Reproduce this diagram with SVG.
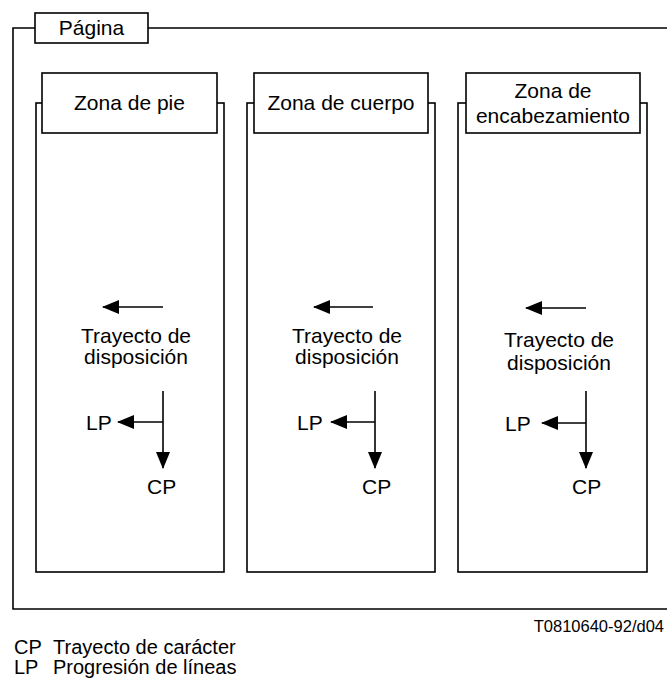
<svg xmlns="http://www.w3.org/2000/svg" width="667" height="680" viewBox="0 0 667 680">
<defs>
<style>
.ln{fill:none;stroke:#000;stroke-width:1.6}
.bx{fill:#fff;stroke:#000;stroke-width:1.6}
.t{font-family:"Liberation Sans",Arial,sans-serif;font-size:21px;fill:#000}
.c{text-anchor:middle}
.lg{font-family:"Liberation Sans",Arial,sans-serif;font-size:20px;fill:#000}
.ref{font-family:"Liberation Sans",Arial,sans-serif;font-size:16.5px;fill:#000;text-anchor:end}
</style>
<marker id="ah" markerWidth="17" markerHeight="14" refX="16" refY="7" orient="auto" markerUnits="userSpaceOnUse">
<path d="M0,0 L17,7 L0,14 Z" fill="#000"/>
</marker>
</defs>
<rect width="667" height="680" fill="#fff"/>
<g id="pagina">
<path class="ln" d="M700,609 H13 V28 H700"/>
<rect class="bx" x="35" y="13" width="113" height="30"/>
<text class="t c" x="91.5" y="35">Página</text>
</g>
<g id="zona-pie">
<rect class="ln" x="36" y="103" width="188" height="469"/>
<rect class="bx" x="42" y="73" width="175" height="60"/>
<text class="t c" x="129.5" y="110">Zona de pie</text>
<text class="t c" x="136" y="343">Trayecto de</text>
<text class="t c" x="136" y="364">disposición</text>
<text class="t" x="86" y="430">LP</text>
<text class="t" x="147" y="494">CP</text>
</g>
<g id="zona-cuerpo">
<rect class="ln" x="247" y="103" width="188" height="469"/>
<rect class="bx" x="254" y="73" width="174" height="60"/>
<text class="t c" x="341" y="110">Zona de cuerpo</text>
<text class="t c" x="347" y="343">Trayecto de</text>
<text class="t c" x="347" y="364">disposición</text>
<text class="t" x="297" y="430">LP</text>
<text class="t" x="362" y="494">CP</text>
</g>
<g id="zona-encabezamiento">
<rect class="ln" x="458" y="103" width="189" height="469"/>
<rect class="bx" x="466" y="73" width="174" height="60"/>
<text class="t c" x="553" y="98">Zona de</text>
<text class="t c" x="553" y="123">encabezamiento</text>
<text class="t c" x="559" y="347">Trayecto de</text>
<text class="t c" x="559" y="370">disposición</text>
<text class="t" x="505" y="431">LP</text>
<text class="t" x="572" y="494">CP</text>
</g>
<g id="connectors">
<line class="ln" x1="163" y1="307" x2="103" y2="307" marker-end="url(#ah)"/>
<line class="ln" x1="163" y1="391" x2="163" y2="468" marker-end="url(#ah)"/>
<line class="ln" x1="163" y1="422" x2="118" y2="422" marker-end="url(#ah)"/>
<line class="ln" x1="373" y1="307" x2="314" y2="307" marker-end="url(#ah)"/>
<line class="ln" x1="375" y1="391" x2="375" y2="468" marker-end="url(#ah)"/>
<line class="ln" x1="375" y1="422" x2="331" y2="422" marker-end="url(#ah)"/>
<line class="ln" x1="586" y1="308" x2="526" y2="308" marker-end="url(#ah)"/>
<line class="ln" x1="586" y1="391" x2="586" y2="468" marker-end="url(#ah)"/>
<line class="ln" x1="586" y1="423" x2="542" y2="423" marker-end="url(#ah)"/>
</g>
<g id="legend">
<text class="ref" x="664" y="632">T0810640-92/d04</text>
<text class="lg" x="14" y="654">CP</text>
<text class="lg" x="53" y="654">Trayecto de carácter</text>
<text class="lg" x="14" y="674">LP</text>
<text class="lg" x="53" y="674">Progresión de líneas</text>
</g>
</svg>
